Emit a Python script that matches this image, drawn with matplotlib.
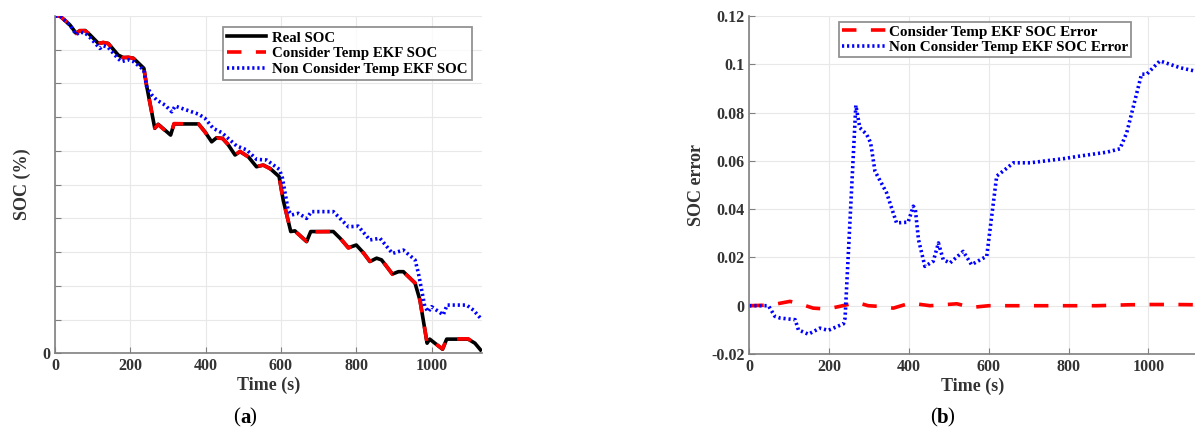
import numpy as np
import matplotlib
matplotlib.use("Agg")
import matplotlib.pyplot as plt

plt.rcParams['font.family'] = ['Liberation Serif', 'DejaVu Serif']
plt.rcParams['font.weight'] = 'bold'

# ---- (a) SOC curves, values in %
real_t = [0, 13, 40, 56, 66, 80, 93, 115, 128, 141, 168, 181, 195, 208, 236, 243, 265, 274,
          307, 316, 381, 398, 416, 429, 445, 460, 478, 491, 513, 535, 553, 571, 595, 606,
          626, 637, 668, 679, 739, 757, 779, 800, 819, 836, 854, 867, 896, 912, 925, 956,
          969, 988, 995, 1029, 1040, 1097, 1115, 1130]
real_soc = [100, 100, 97.3, 94.9, 95.6, 95.7, 94.4, 91.9, 92.1, 91.9, 88.4, 87.7, 87.7, 87.5,
            84.5, 79.5, 66.7, 67.9, 64.7, 68.0, 68.0, 65.7, 62.7, 63.9, 63.7, 61.8, 58.8,
            59.8, 58.3, 55.3, 55.8, 54.8, 52.4, 45.4, 36.1, 36.3, 33.1, 36.1, 36.1, 34.1,
            31.3, 32.1, 29.8, 27.2, 28.2, 27.7, 23.5, 24.2, 24.2, 20.8, 15.8, 3.0, 4.2,
            1.2, 4.2, 4.2, 3.0, 1.0]
ekf_soc = [100, 100, 97.4, 94.8, 95.7, 95.6, 94.5, 91.8, 92.2, 91.8, 88.5, 87.6, 87.8, 87.4,
           84.6, 79.4, 66.8, 67.8, 64.6, 68.1, 68.0, 65.6, 62.8, 63.8, 63.7, 61.9, 58.7,
           59.9, 58.2, 55.4, 55.8, 54.7, 52.5, 45.3, 36.2, 36.2, 33.2, 36.0, 36.1, 34.2,
           31.2, 32.2, 29.7, 27.3, 28.1, 27.8, 23.4, 24.3, 24.1, 20.9, 15.7, 3.1, 4.1,
           1.3, 4.2, 4.3, 2.9, 1.0]

noncon_t = [0, 13, 40, 56, 66, 80, 93, 119, 128, 141, 168, 177, 195, 208, 236, 243, 257, 270,
            292, 310, 319, 350, 381, 398, 420, 443, 465, 482, 509, 535, 562, 596, 604, 619,
            628, 646, 668, 681, 739, 779, 805, 836, 863, 896, 925, 956, 965, 982, 991,
            1000, 1031, 1041, 1093, 1111, 1130]
noncon_soc = [100, 100, 97.3, 94.5, 95.2, 95.0, 93.6, 90.4, 91.2, 90.7, 87.3, 86.5, 87.0,
              86.5, 84.0, 79.2, 76.6, 75.1, 73.6, 71.6, 73.3, 72.1, 70.9, 69.7, 66.7, 65.4,
              63.2, 61.5, 60.3, 57.5, 57.3, 54.5, 51.9, 42.5, 41.0, 41.5, 40.0, 42.0, 42.0,
              37.5, 37.7, 33.6, 34.1, 29.6, 30.6, 27.7, 23.7, 13.8, 12.3, 13.8, 11.4, 14.3,
              14.3, 12.8, 10.4]

# ---- (b) SOC error
err_con_t = [0, 40, 70, 102, 130, 160, 194, 223, 250, 269, 298, 328, 361, 403, 453, 520,
             557, 600, 700, 800, 871, 954, 1004, 1070, 1117]
err_con = [0, 0.0002, 0.0008, 0.0018, 0.0006, -0.001, -0.0014, -0.0004, 0.0006, 0.0014,
           0.0, -0.0003, -0.001, 0.0011, 0.0, 0.0008, -0.0007, 0.0, 0.0, 0.0, 0.0, 0.0004,
           0.0005, 0.0005, 0.0004]

err_non_t = [0, 48, 64, 77, 115, 123, 148, 177, 198, 236, 240, 267, 277, 294, 304, 315,
             344, 369, 398, 411, 416, 424, 440, 461, 474, 486, 503, 536, 557, 595, 620,
             641, 662, 704, 787, 829, 896, 929, 946, 983, 996, 1029, 1079, 1117]
err_non = [0, 0, -0.0044, -0.0051, -0.0058, -0.010, -0.0118, -0.0093, -0.0102, -0.0075,
           -0.0051, 0.083, 0.0737, 0.071, 0.0675, 0.0557, 0.0468, 0.0343, 0.0346, 0.0412,
           0.040, 0.0274, 0.0163, 0.0184, 0.026, 0.0191, 0.0177, 0.0225, 0.017, 0.0205,
           0.0537, 0.0564, 0.0592, 0.0592, 0.0609, 0.062, 0.0636, 0.065, 0.0717, 0.0959,
           0.0959, 0.1014, 0.0986, 0.0972]

spine_col = '#808080'
grid_col = '#e8e8e8'

fig = plt.figure(figsize=(11.95, 4.32), dpi=100)
ax1 = fig.add_axes([55 / 1195, 1 - 353.3 / 432, (481.7 - 55) / 1195, (353.3 - 16) / 432])
ax2 = fig.add_axes([749.3 / 1195, 1 - 354 / 432, (1195 - 749.3) / 1195, (354 - 16) / 432])


def style(ax):
    for s in ['top', 'right']:
        ax.spines[s].set_visible(False)
    for s in ['left', 'bottom']:
        ax.spines[s].set_color(spine_col)
        ax.spines[s].set_linewidth(1.2)
    ax.grid(True, color=grid_col, linewidth=0.8)
    ax.set_axisbelow(True)
    ax.tick_params(direction='in', length=4, color=spine_col, labelsize=11.5)
    for lab in ax.get_xticklabels() + ax.get_yticklabels():
        lab.set_fontweight('bold')
        lab.set_color('#333333')


ax1.plot(real_t, real_soc, color='black', lw=2.6, label='Real SOC')
ax1.plot(real_t, ekf_soc, color='red', lw=2.6, ls=(0, (4, 4)), label='Consider Temp EKF SOC')
ax1.plot(noncon_t, noncon_soc, color='blue', lw=2.6, ls=(0, (0.6, 0.8)),
         label='Non Consider Temp EKF SOC')
ax1.set_xlim(0, 1133)
ax1.set_ylim(0, 100)
ax1.set_xticks([0, 200, 400, 600, 800, 1000])
ax1.set_yticks(np.arange(0, 101, 10))
ax1.set_yticklabels(['0'] + [''] * 10)
style(ax1)
ax1.set_xlabel('Time (s)', fontsize=13, fontweight='bold', color='#333333', labelpad=2)
ax1.set_ylabel('SOC (%)', fontsize=13, fontweight='bold', color='#333333', labelpad=8)
leg1 = ax1.legend(loc='upper right', bbox_to_anchor=(0.977, 0.968), fontsize=10.7,
                  frameon=True, fancybox=False, edgecolor='#777777', handlelength=2.6,
                  borderpad=0.3, labelspacing=0.15, handletextpad=0.4,
                  borderaxespad=0)
leg1.get_frame().set_linewidth(1.3)

ax2.plot(err_con_t, err_con, color='red', lw=2.6, ls=(0, (4, 4)),
         label='Consider Temp EKF SOC Error')
ax2.plot(err_non_t, err_non, color='blue', lw=2.6, ls=(0, (0.6, 0.8)),
         label='Non Consider Temp EKF SOC Error')
ax2.set_xlim(0, 1117)
ax2.set_ylim(-0.02, 0.12)
ax2.set_xticks([0, 200, 400, 600, 800, 1000])
ax2.set_yticks([-0.02, 0, 0.02, 0.04, 0.06, 0.08, 0.1, 0.12])
ax2.set_yticklabels(['-0.02', '0', '0.02', '0.04', '0.06', '0.08', '0.1', '0.12'])
style(ax2)
ax2.set_xlabel('Time (s)', fontsize=13, fontweight='bold', color='#333333', labelpad=2)
ax2.set_ylabel('SOC error', fontsize=13, fontweight='bold', color='#333333', labelpad=4)
leg2 = ax2.legend(loc='upper left', bbox_to_anchor=(0.201, 0.982), fontsize=10.9,
                  frameon=True, fancybox=False, edgecolor='#777777', handlelength=2.9,
                  borderpad=0.2, labelspacing=0.1, handletextpad=0.2,
                  borderaxespad=0)
leg2.get_frame().set_linewidth(1.3)

fig.text(240 / 1195, 1 - 418 / 432, '(', fontsize=15, fontweight='normal', ha='right', va='center')
fig.text(240 / 1195, 1 - 418 / 432, 'a', fontsize=15, fontweight='bold', ha='left', va='center')
fig.text(249 / 1195, 1 - 418 / 432, ')', fontsize=15, fontweight='normal', ha='left', va='center')
fig.text(937 / 1195, 1 - 418 / 432, '(', fontsize=15, fontweight='normal', ha='right', va='center')
fig.text(937 / 1195, 1 - 418 / 432, 'b', fontsize=15, fontweight='bold', ha='left', va='center')
fig.text(947 / 1195, 1 - 418 / 432, ')', fontsize=15, fontweight='normal', ha='left', va='center')

fig.savefig('out.png', dpi=100)
